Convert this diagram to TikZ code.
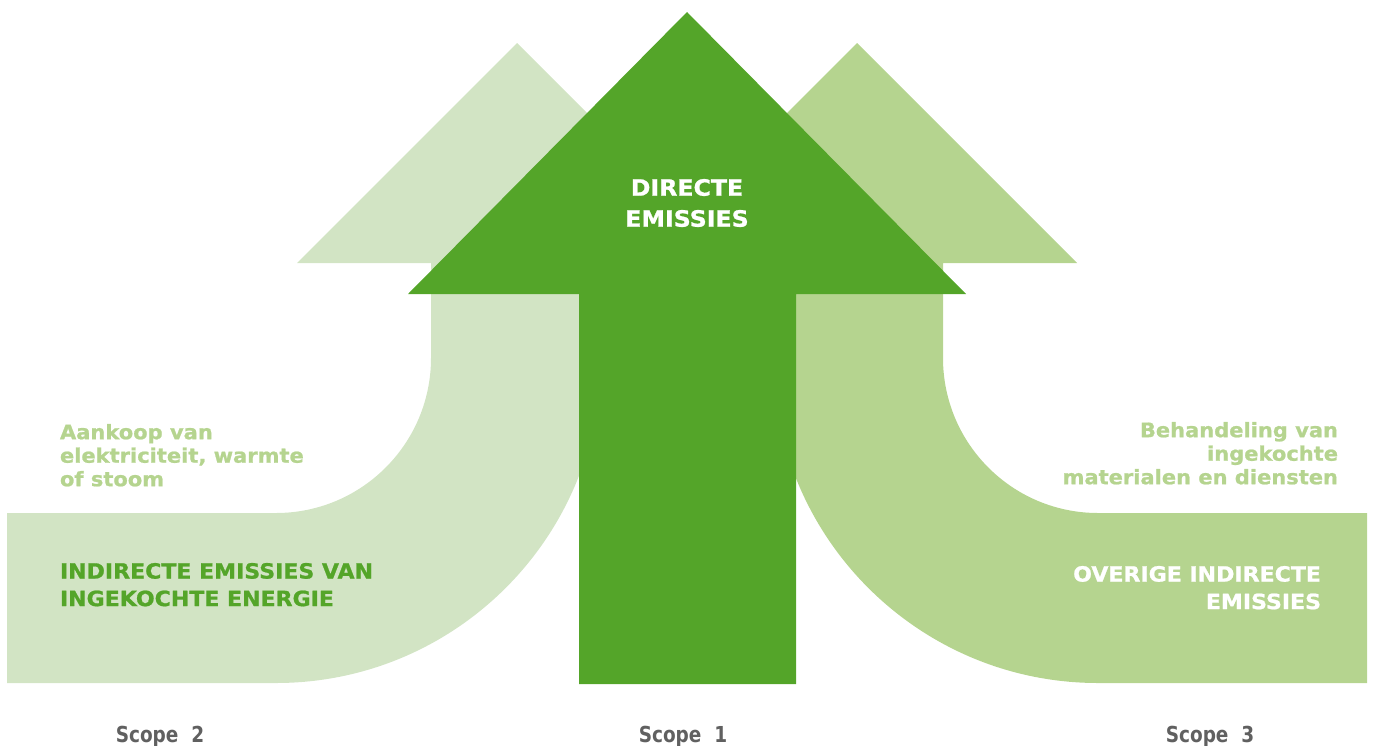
\documentclass[tikz,border=0pt]{standalone}
\usepackage{fontspec}
\setmainfont{DejaVu Sans}[BoldFeatures={FakeStretch=1.05, FakeBold=1}]
\newfontfamily\scopefont{DejaVu Sans}[BoldFeatures={FakeStretch=0.84}]
\usepackage{tikz}
\usetikzlibrary{positioning}
\tikzset{
  txt_n/.style = {inner sep=0pt, outer sep=0pt},
  txt_head/.style = {txt_n, align=center, text=white, font=\fontsize{22.5}{31}\selectfont\bfseries},
  txt_band/.style = {txt_n, font=\fontsize{21}{27.5}\selectfont\bfseries},
  txt_note/.style = {txt_n, text=my_lime, font=\fontsize{20}{23.5}\selectfont\bfseries},
  txt_scope/.style = {txt_n, anchor=base, text=my_grey, font=\fontsize{22}{24}\scopefont\bfseries}
}
\definecolor{my_pale}{RGB}{210, 228, 196}
\definecolor{my_lime}{RGB}{181, 212, 143}
\definecolor{my_green}{RGB}{84, 165, 41}
\definecolor{my_grey}{RGB}{96, 96, 96}

\begin{document}
\begin{tikzpicture}[x=1pt, y=-1pt]
	\useasboundingbox (0,0) rectangle (1373,745);
	% scope 2
	\fill[my_pale] (7,513) -- (276,513) arc[start angle=90, end angle=0, radius=155]
		-- (431,263) -- (297,263) -- (517,43) -- (737,263) -- (601,263)
		-- (601,358) arc[start angle=0, end angle=90, radius=325] -- (7,683) -- cycle;
	% scope 3
	\fill[my_lime] (1367,513) -- (1098,513) arc[start angle=90, end angle=180, radius=155]
		-- (943,263) -- (1077,263) -- (857,43) -- (637,263) -- (773,263)
		-- (773,358) arc[start angle=180, end angle=90, radius=325] -- (1367,683) -- cycle;
	% scope 1
	\fill[my_green] (579,684) -- (579,294) -- (408,294) -- (687,12) -- (966,294)
		-- (796,294) -- (796,684) -- cycle;

	\node [txt_head, anchor=north] (direct) at (687,179) {DIRECTE\\EMISSIES};
	\node [txt_band, text=my_green, anchor=north west, align=left] (indirect) at (60,563)
		{INDIRECTE EMISSIES VAN\\INGEKOCHTE ENERGIE};
	\node [txt_band, text=white, anchor=north east, align=right] (other) at (1321,566)
		{OVERIGE INDIRECTE\\EMISSIES};
	\node [txt_note, anchor=north west, align=left] (purchase) at (60,424)
		{Aankoop van\\elektriciteit, warmte\\of stoom};
	\node [txt_note, anchor=north east, align=right] (treatment) at (1338,422)
		{Behandeling van\\ingekochte\\materialen en diensten};

	\node [txt_scope] (scope2) at (160,742) {Scope~~2};
	\node [txt_scope] (scope1) at (683,742) {Scope~~1};
	\node [txt_scope] (scope3) at (1210,742) {Scope~~3};
\end{tikzpicture}
\end{document}
